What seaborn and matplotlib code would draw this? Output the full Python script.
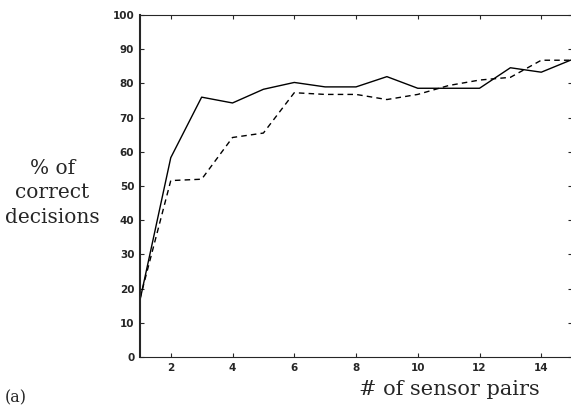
import numpy as np
import pandas as pd
import matplotlib
matplotlib.use('Agg')
import matplotlib.pyplot as plt
import seaborn as sns

pairs = list(range(1, 16))
solid_pct = [16.5, 58.3, 76.0, 74.3, 78.3, 80.3, 79.0, 79.0, 82.0, 78.6, 78.6, 78.6, 84.6, 83.3, 87.0]
dashed_pct = [17.0, 51.6, 52.0, 64.2, 65.5, 77.3, 76.8, 76.8, 75.3, 76.8, 79.4, 81.0, 81.8, 86.8, 86.8]

df = pd.DataFrame({'pairs': pairs + pairs,
                   'pct': solid_pct + dashed_pct,
                   'method': ['a'] * 15 + ['b'] * 15})

sns.set_style('ticks')
plt.rcParams['font.family'] = ['DejaVu Sans']

fig = plt.figure(figsize=(5.71, 4.08), dpi=100)
ax = fig.add_axes([0.245, 0.125, 0.757, 0.838])

sns.lineplot(data=df, x='pairs', y='pct', style='method', color='black',
             dashes={'a': '', 'b': (4, 3)}, linewidth=1.0, legend=False, ax=ax)

ax.set_xlim(1, 15)
ax.set_ylim(0, 100)
ax.set_xticks([2, 4, 6, 8, 10, 12, 14])
ax.set_yticks(range(0, 101, 10))
ax.tick_params(direction='in', top=True, right=True, length=3, width=0.8,
               labelsize=7.5, pad=4)
for lab in ax.get_xticklabels() + ax.get_yticklabels():
    lab.set_fontweight('bold')
for s in ax.spines.values():
    s.set_linewidth(0.8)
ax.spines['left'].set_linewidth(1.5)
ax.set_xlabel('')
ax.set_ylabel('')

fig.text(0.092, 0.527, '% of\ncorrect\ndecisions', ha='center', va='center',
         family='DejaVu Serif', fontsize=14.5, linespacing=1.35)
fig.text(0.787, 0.045, '# of sensor pairs', ha='center', va='center',
         family='DejaVu Serif', fontsize=15)
fig.text(0.008, 0.025, '(a)', ha='left', va='center',
         family='DejaVu Serif', fontsize=11.5)

fig.savefig('out.png', dpi=100, facecolor='white')
